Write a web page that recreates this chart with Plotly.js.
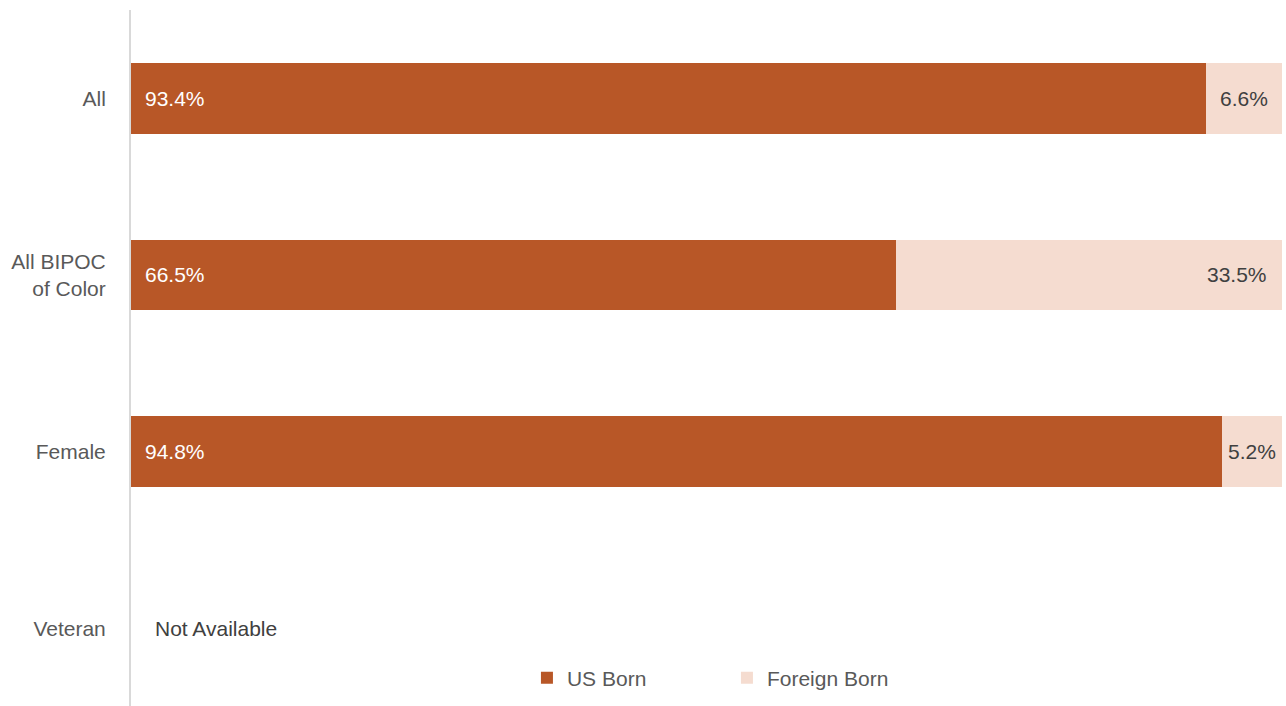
<!DOCTYPE html>
<html>
<head>
<meta charset="utf-8">
<script src="https://cdn.plot.ly/plotly-3.0.1.min.js"></script>
<style>html,body{margin:0;padding:0;background:#fff;}#chart{width:1286px;height:706px;}</style>
</head>
<body>
<div id="chart"></div>
<script>
const categories = ['All', 'All BIPOC<br>of Color', 'Female', 'Veteran'];
const usBorn = [93.4, 66.5, 94.8, null];
const foreignBorn = [6.6, 33.5, 5.2, null];
const seriesNames = ['US Born', 'Foreign Born'];
const missingLabel = 'Not Available';

const FONT = 'Liberation Sans Narrow, Arial Narrow, Liberation Sans, Arial, sans-serif';
const FS = 21;
const darkColor = '#B85727';
const lightColor = '#F5DCD0';

const traces = [
  {type: 'bar', orientation: 'h', name: seriesNames[0], y: categories, x: usBorn,
   marker: {color: darkColor}, width: 0.4, hoverinfo: 'skip'},
  {type: 'bar', orientation: 'h', name: seriesNames[1], y: categories, x: foreignBorn,
   marker: {color: lightColor}, width: 0.4, hoverinfo: 'skip'}
];

const annotations = [];
categories.forEach((c, i) => {
  if (usBorn[i] == null) {
    annotations.push({x: 0, y: c, xref: 'x', yref: 'y', text: missingLabel, showarrow: false,
      xanchor: 'left', xshift: 22, font: {family: FONT, size: FS, color: '#404040'}});
    return;
  }
  annotations.push({x: 0, y: c, xref: 'x', yref: 'y', text: usBorn[i].toFixed(1) + '%', showarrow: false,
    xanchor: 'left', xshift: 12, font: {family: FONT, size: FS, color: '#ffffff'}});
  const total = usBorn[i] + foreignBorn[i];
  const narrow = foreignBorn[i] < 10;
  annotations.push({x: narrow ? total - foreignBorn[i] / 2 : total, y: c, xref: 'x', yref: 'y',
    text: foreignBorn[i].toFixed(1) + '%', showarrow: false,
    xanchor: narrow ? 'center' : 'right', xshift: narrow ? 0 : -13,
    font: {family: FONT, size: FS, color: '#404040'}});
});

const layout = {
  width: 1286, height: 706,
  margin: {l: 131, r: 4, t: 10, b: 0},
  paper_bgcolor: '#ffffff', plot_bgcolor: '#ffffff',
  barmode: 'stack', bargap: 0,
  font: {family: FONT, size: FS, color: '#595959'},
  showlegend: true,
  legend: {orientation: 'h', x: 0.344, xanchor: 'left', y: 0.04, yanchor: 'middle',
    entrywidth: 155, font: {family: FONT, size: FS, color: '#595959'}, traceorder: 'normal',
    bgcolor: 'rgba(0,0,0,0)'},
  xaxis: {range: [0, 100], visible: false, fixedrange: true},
  yaxis: {type: 'category', range: [3.44, -0.5], autorange: false, showline: true, linecolor: '#D9D9D9',
    linewidth: 2, showgrid: false, zeroline: false, ticks: 'outside', ticklen: 19, tickcolor: 'rgba(0,0,0,0)',
    tickfont: {family: FONT, size: FS, color: '#595959'}, fixedrange: true},
  annotations: annotations
};

Plotly.newPlot('chart', traces, layout, {displayModeBar: false, staticPlot: true});
</script>
</body>
</html>
